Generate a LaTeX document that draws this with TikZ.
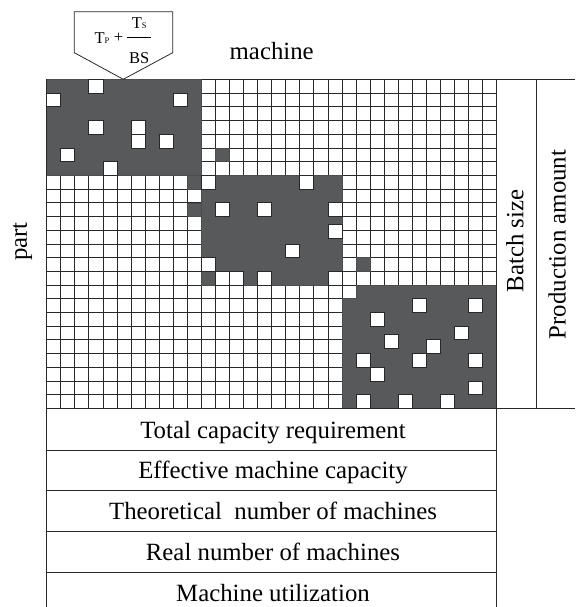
\documentclass[tikz,border=0pt]{standalone}
\usepackage{fontspec}
\setmainfont{Liberation Serif}
\definecolor{blockgray}{RGB}{88,89,91}
\definecolor{linegray}{RGB}{40,40,40}
\newcommand\gx[1]{46.7+(#1)*14.0625}
\newcommand\gy[1]{79.5+(#1)*13.7}
\begin{document}
\begin{tikzpicture}[x=1pt,y=-1pt,
  gridline/.style={draw=linegray,line width=0.8pt},
  frameline/.style={draw=linegray,line width=0.9pt},
  darkfill/.style={fill=blockgray,draw=blockgray!85!black,line width=0.6pt},
  whitecell/.style={fill=white,draw=linegray,line width=0.8pt},
  bigtext/.style={font=\fontsize{24.8}{28}\selectfont,inner sep=0pt},
  formtext/.style={font=\fontsize{16.5}{18}\selectfont,inner sep=0pt}]
\useasboundingbox (0,0) rectangle (575,607);
% grid lines
\foreach \i in {0,...,32} \draw[gridline] ({\gx{\i}},{\gy{0}}) -- ({\gx{\i}},{\gy{24}});
\foreach \j in {0,...,24} \draw[gridline] ({\gx{0}},{\gy{\j}}) -- ({\gx{32}},{\gy{\j}});
% dark blocks
\filldraw[darkfill] ({\gx{0}},{\gy{0}}) rectangle ({\gx{11}},{\gy{7}});
\filldraw[darkfill] ({\gx{11}},{\gy{7}}) rectangle ({\gx{21}},{\gy{15}});
\filldraw[darkfill] ({\gx{22}},{\gy{15}}) -- ({\gx{32}},{\gy{15}}) -- ({\gx{32}},{\gy{24}}) -- ({\gx{21}},{\gy{24}}) -- ({\gx{21}},{\gy{16}}) -- ({\gx{22}},{\gy{16}}) -- cycle;
\foreach \c/\r in {10/7,10/9,12/5,22/13}
  \filldraw[darkfill] ({\gx{\c}},{\gy{\r}}) rectangle ({\gx{\c+1}},{\gy{\r+1}});
% white cells inside blocks
\foreach \c/\r in {3/0,0/1,9/1,3/3,6/3,6/4,8/4,1/5,4/6,
  11/7,18/7,12/9,15/9,20/9,20/10.6,17/12,11/13,12/14,13/14,15/14,20/14,
  26/16,30/16,23/17,29/18,24/18.6,27/19,22/20,26/20,30/20,23/21,30/22,22/23,25/23,28/23}
  \filldraw[whitecell] ({\gx{\c}},{\gy{\r}}) rectangle ({\gx{\c+1}},{\gy{\r+1}});
% frame lines right and table
\draw[frameline] ({\gx{32}},{\gy{0}}) -- (575,{\gy{0}});
\draw[frameline] ({\gx{0}},{\gy{24}}) -- (575,{\gy{24}});
\draw[frameline] (536.7,{\gy{0}}) -- (536.7,{\gy{24}});
\draw[frameline] ({\gx{32}},{\gy{0}}) -- ({\gx{32}},607);
\draw[frameline] ({\gx{0}},{\gy{0}}) -- ({\gx{0}},607);
\foreach \yy in {450,490.8,531.7,572.7}
  \draw[frameline] ({\gx{0}},\yy) -- ({\gx{32}},\yy);
% table texts
\node[bigtext,anchor=base] (t1) at (273,438.3) {Total capacity requirement};
\node[bigtext,anchor=base] (t2) at (273,478.8) {Effective machine capacity};
\node[bigtext,anchor=base] (t3) at (273,519.8) {Theoretical\ \ number of machines};
\node[bigtext,anchor=base] (t4) at (273,560.7) {Real number of machines};
\node[bigtext,anchor=base] (t5) at (273,601.5) {Machine utilization};
% labels
\node[bigtext,anchor=base] (machine) at (271.7,60) {machine};
\node[bigtext,anchor=base,rotate=90] (part) at (27,241.7) {part};
\node[bigtext,anchor=base,rotate=90] (batch) at (523.3,241) {Batch size};
\node[bigtext,anchor=base,rotate=90] (prod) at (565.5,244.5) {Production amount};
% formula callout
\draw[line width=0.8pt,draw=linegray] (74.3,11.7) -- (172.7,11.7) -- (172.7,52.7) -- (123.3,79.3) -- (74.3,52.7) -- cycle;
\node[formtext,anchor=base] (tp) at (102,43.3) {T{\fontsize{8.5}{9}\selectfont P}};
\node[formtext] (plus) at (118.5,38.3) {+};
\node[formtext,anchor=base] (ts) at (139.2,28.3) {T{\fontsize{8.5}{9}\selectfont S}};
\node[formtext,anchor=base] (bs) at (139.2,63.3) {BS};
\draw[line width=0.6pt] (127,37.3) -- (150.5,37.3);
\end{tikzpicture}
\end{document}
